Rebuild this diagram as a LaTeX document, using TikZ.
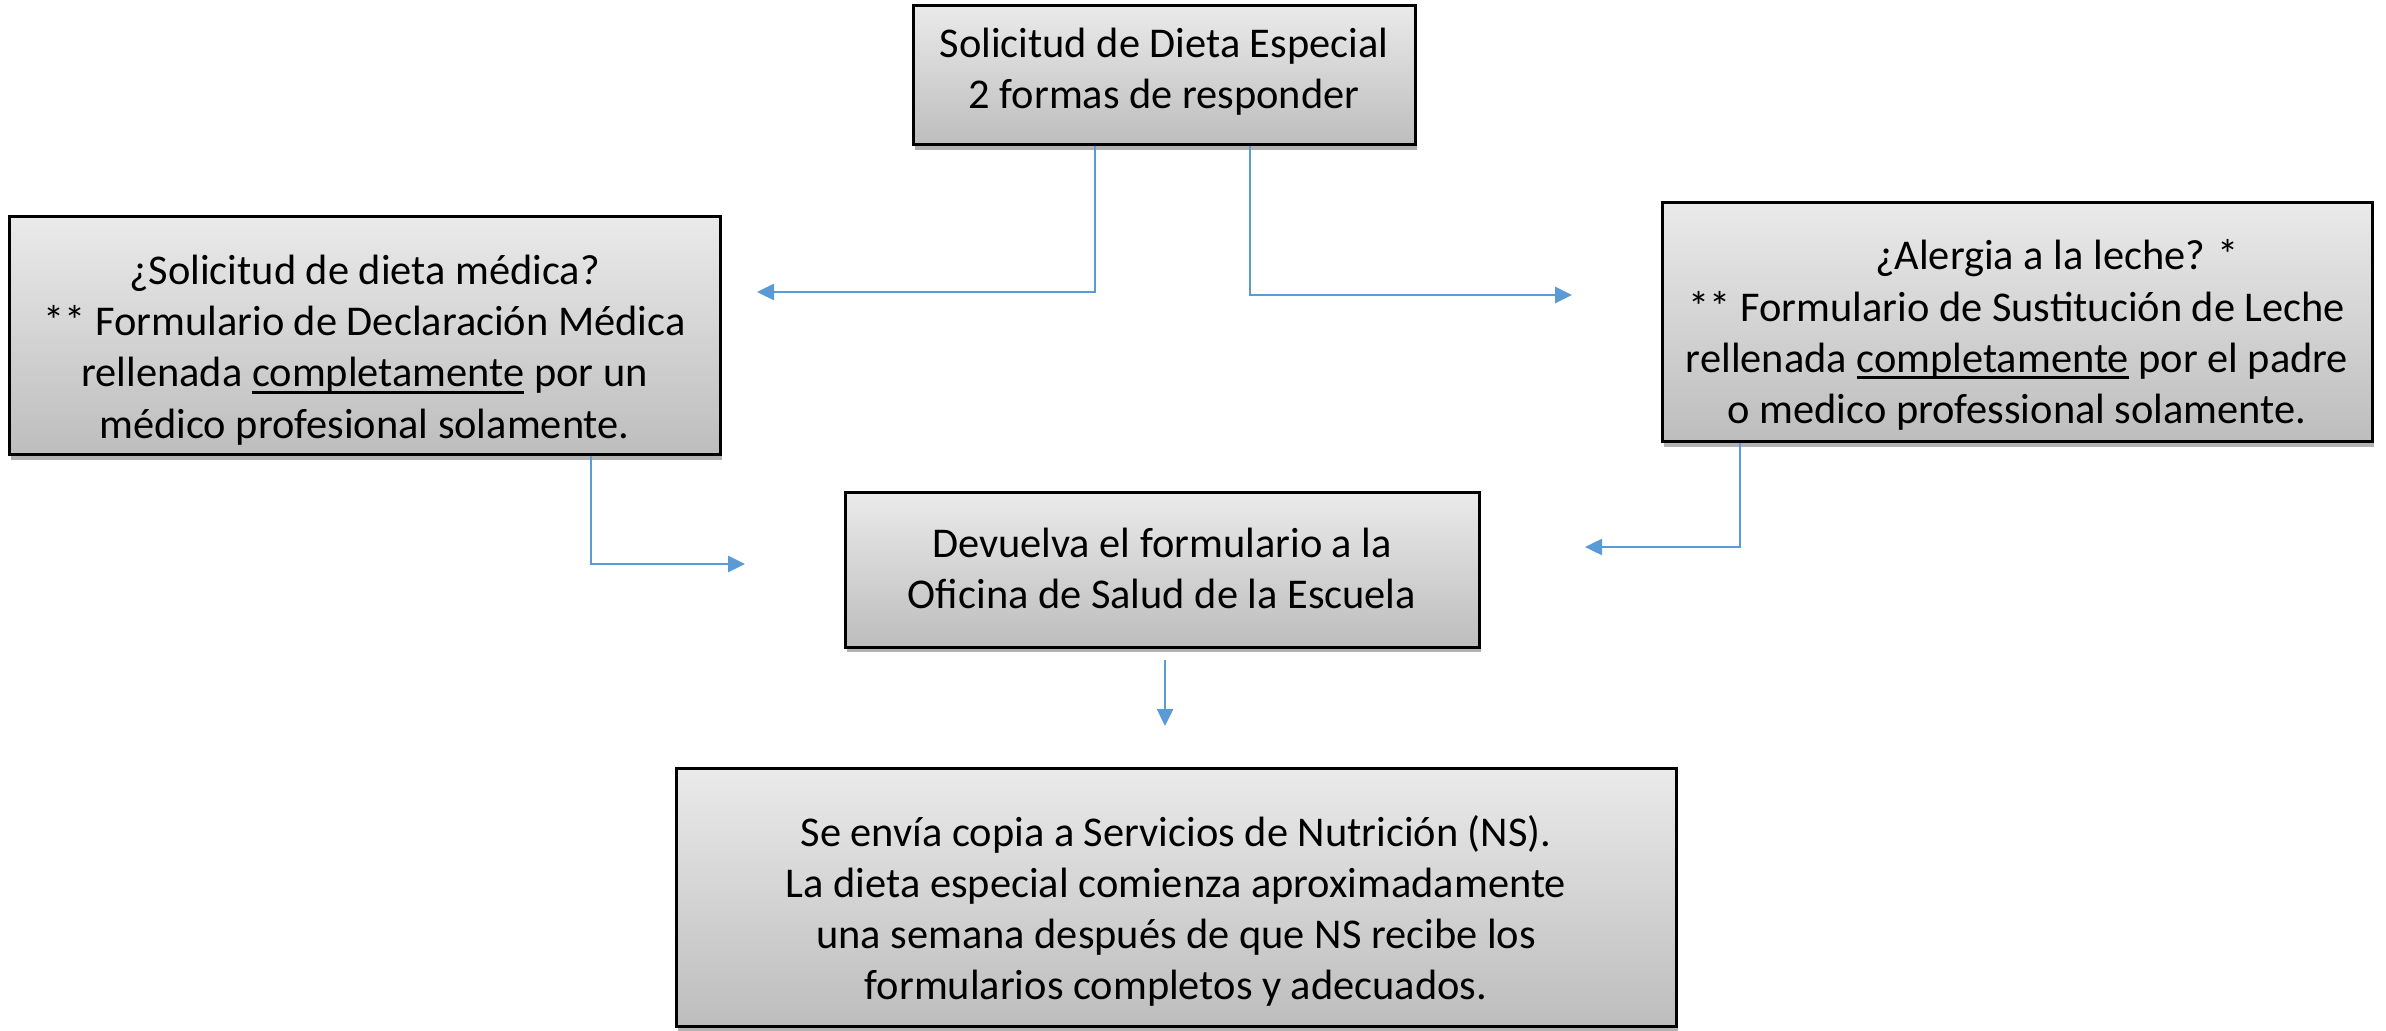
\documentclass[tikz,border=0pt]{standalone}
\usepackage{fontspec}
\setmainfont{Carlito}
\usetikzlibrary{arrows.meta,shadows}
\definecolor{conncol}{HTML}{5B9BD5}
\definecolor{boxtop}{HTML}{EAEAEA}
\definecolor{boxbot}{HTML}{BDBDBD}
\newsavebox\ulbox
\newcommand\myul[1]{\sbox\ulbox{#1}\rlap{\rule[-3.4pt]{\wd\ulbox}{1.4pt}}\usebox\ulbox}
\tikzset{
  box/.style={draw=black, line width=1.5pt, rectangle, inner sep=0pt,
    top color=boxtop, bottom color=boxbot,
    drop shadow={shadow xshift=1pt, shadow yshift=-2.5pt, opacity=0.3, fill=black}},
  txt/.style={align=center, inner sep=0pt, font=\fontsize{21.2pt}{25.6pt}\selectfont},
  conn/.style={draw=conncol, line width=1.3pt, -{Triangle[length=8.5pt,width=8pt]}}
}
\begin{document}
\begin{tikzpicture}[x=0.5pt,y=-0.5pt]
\useasboundingbox (0,0) rectangle (2386,1031);
% boxes
\node[box, minimum width=251pt, minimum height=69.5pt] (top) at (1164,75.5) {};
\node[box, minimum width=355.5pt, minimum height=119pt] (left) at (364.5,336) {};
\node[box, minimum width=355pt, minimum height=119.5pt] (right) at (2017,322.5) {};
\node[box, minimum width=317pt, minimum height=77pt] (mid) at (1162,570) {};
\node[box, minimum width=500pt, minimum height=129pt] (bot) at (1176,897.5) {};
% texts
\node[txt] (ttop) at (1164,71.5) {Solicitud de Dieta Especial\\2 formas de responder};
\node[txt] (tleft) at (364.5,350) {¿Solicitud de dieta médica?\\{}** Formulario de Declaración Médica\\rellenada \myul{completamente} por un\\médico profesional solamente.};
\node[txt] (tright) at (2017,335) {\hspace*{40pt}¿Alergia a la leche? *\\{}** Formulario de Sustitución de Leche\\rellenada \myul{completamente} por el padre\\o medico professional solamente.};
\node[txt] (tmid) at (1162,568.5) {Devuelva el formulario a la\\Oficina de Salud de la Escuela};
\node[txt] (tbot) at (1176,911) {Se envía copia a Servicios de Nutrición (NS).\\La dieta especial comienza aproximadamente\\una semana después de que NS recibe los\\formularios completos y adecuados.};
% arrow end points
\coordinate (e1) at (757,292);
\coordinate (e2) at (1572,295);
\coordinate (e3) at (745,564);
\coordinate (e4) at (1585,547);
\coordinate (e5s) at (1165,660);
\coordinate (e5) at (1165,726);
% connectors
\draw[conn] ([xshift=-34.5pt]top.south) |- (e1);
\draw[conn] ([xshift=43pt]top.south) |- (e2);
\draw[conn] ([xshift=113.25pt]left.south) |- (e3);
\draw[conn] ([xshift=-138.5pt]right.south) |- (e4);
\draw[conn] (e5s) -- (e5);
\end{tikzpicture}
\end{document}
